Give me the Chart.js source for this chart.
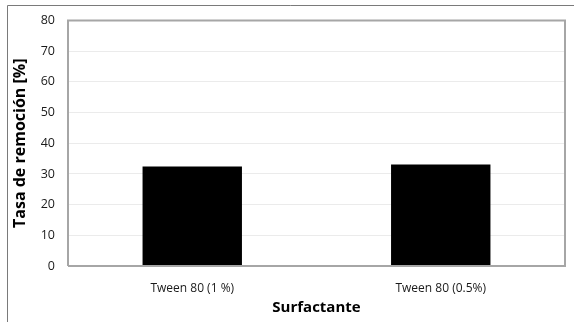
<!DOCTYPE html>
<html>
<head>
<meta charset="utf-8">
<script src="https://cdn.jsdelivr.net/npm/chart.js@4"></script>
<style>
html,body{margin:0;padding:0;background:#fff;}
#wrap{width:574px;height:322px;position:relative;}
</style>
</head>
<body>
<div id="wrap"><canvas id="c" width="574" height="322"></canvas></div>
<script>
const categories = ["Tween 80 (1 %)", "Tween 80 (0.5%)"];
const removalRate = [32.4, 33.1];
const yTicks = [0, 10, 20, 30, 40, 50, 60, 70, 80];

const FONT = "'Open Sans', 'Liberation Sans', sans-serif";

const framePlugin = {
  id: 'frame',
  beforeDraw(chart) {
    const ctx = chart.ctx;
    ctx.save();
    ctx.fillStyle = '#fff';
    ctx.fillRect(0, 0, chart.width, chart.height);
    ctx.strokeStyle = '#7a7a7a';
    ctx.lineWidth = 1;
    ctx.beginPath();
    ctx.moveTo(7.5, 322);
    ctx.lineTo(7.5, 5.5);
    ctx.lineTo(574, 5.5);
    ctx.stroke();
    ctx.restore();
  },
  afterDatasetsDraw(chart) {
    const a = chart.chartArea;
    const ctx = chart.ctx;
    ctx.save();
    ctx.strokeStyle = '#a6a6a6';
    ctx.lineWidth = 2;
    ctx.beginPath();
    ctx.moveTo(a.left, a.bottom);
    ctx.lineTo(a.left, a.top);
    ctx.lineTo(a.right, a.top);
    ctx.lineTo(a.right, a.bottom);
    ctx.lineTo(a.left, a.bottom);
    ctx.stroke();
    ctx.restore();
  }
};

new Chart(document.getElementById('c'), {
  type: 'bar',
  data: {
    labels: categories,
    datasets: [{
      data: removalRate,
      backgroundColor: '#000000',
      borderWidth: 0,
      categoryPercentage: 0.8,
      barPercentage: 0.5
    }]
  },
  options: {
    responsive: false,
    animation: false,
    devicePixelRatio: 1,
    layout: { padding: { left: 10, right: 9, top: 18, bottom: 0 } },
    plugins: { legend: { display: false }, tooltip: { enabled: false } },
    scales: {
      x: {
        grid: { display: false, drawTicks: false },
        border: { display: false },
        ticks: { color: '#1a1a1a', font: { family: FONT, size: 12 }, padding: 15, maxRotation: 0 },
        title: { display: true, text: 'Surfactante', color: '#000', font: { family: FONT, size: 15, weight: 'bold' }, padding: { top: 0, bottom: 5 } },
        afterFit(s) { s.height = 322 - 266; }
      },
      y: {
        min: 0, max: 80,
        afterBuildTicks(s) { s.ticks = yTicks.map(v => ({ value: v })); },
        grid: { color: '#ebebeb', drawTicks: false, lineWidth: 1 },
        border: { display: false },
        ticks: { color: '#1a1a1a', font: { family: FONT, size: 12.5 }, padding: 13 },
        title: { display: true, text: 'Tasa de remoción [%]', color: '#000', font: { family: FONT, size: 16, weight: 'bold' }, padding: { top: 1, bottom: 0 } },
        afterFit(s) { s.width = 68 - 10; }
      }
    }
  },
  plugins: [framePlugin]
});
</script>
</body>
</html>
